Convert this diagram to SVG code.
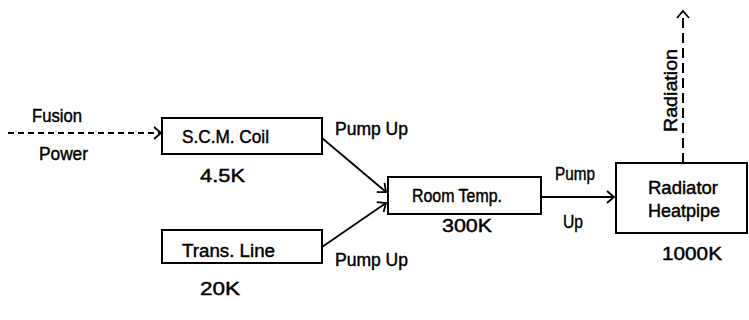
<svg xmlns="http://www.w3.org/2000/svg" width="749" height="320" viewBox="0 0 749 320">
<style>
.box{fill:#fff;stroke:#000;stroke-width:2}
.t{font-family:"Liberation Sans",Arial,sans-serif;font-size:18px;fill:#000;stroke:#000;stroke-width:0.45}
.ln{stroke:#000;stroke-width:1.8;fill:none}
.dash{stroke:#000;stroke-width:1.8;fill:none;stroke-dasharray:6 4}
.dash2{stroke:#000;stroke-width:2;fill:none;stroke-dasharray:10 5}
</style>
<defs>
<marker id="arr" markerUnits="userSpaceOnUse" markerWidth="14" markerHeight="14" refX="12" refY="7" orient="auto">
<path d="M5,1 L12,7 L5,13" fill="none" stroke="#000" stroke-width="1.8"/>
</marker>
</defs>
<rect width="749" height="320" fill="#fff"/>
<g id="connectors">
<line class="dash" x1="8" y1="133" x2="161" y2="133" marker-end="url(#arr)"/>
<line class="ln" x1="322" y1="138" x2="386" y2="192" marker-end="url(#arr)"/>
<line class="ln" x1="322" y1="247" x2="386" y2="203" marker-end="url(#arr)"/>
<line class="ln" x1="541" y1="197" x2="614" y2="197" marker-end="url(#arr)"/>
<line class="dash2" x1="683" y1="163" x2="683" y2="11" marker-end="url(#arr)"/>
<text class="t" x="32" y="122" textLength="50" lengthAdjust="spacingAndGlyphs">Fusion</text>
<text class="t" x="39" y="160" textLength="49" lengthAdjust="spacingAndGlyphs">Power</text>
<text class="t" x="335" y="135" textLength="73" lengthAdjust="spacingAndGlyphs">Pump Up</text>
<text class="t" x="335" y="266" textLength="73" lengthAdjust="spacingAndGlyphs">Pump Up</text>
<text class="t" x="555" y="180" textLength="40" lengthAdjust="spacingAndGlyphs">Pump</text>
<text class="t" x="563" y="228" textLength="20" lengthAdjust="spacingAndGlyphs">Up</text>
<text class="t" transform="translate(677,132) rotate(-90)" x="0" y="0" textLength="83" lengthAdjust="spacingAndGlyphs">Radiation</text>
</g>
<g id="scm">
<rect class="box" x="162" y="118" width="160" height="36"/>
<text class="t" x="182" y="143" textLength="87" lengthAdjust="spacingAndGlyphs">S.C.M. Coil</text>
<text class="t" x="200" y="182" textLength="45" lengthAdjust="spacingAndGlyphs">4.5K</text>
</g>
<g id="trans">
<rect class="box" x="162" y="230" width="160" height="33"/>
<text class="t" x="182" y="257" textLength="93" lengthAdjust="spacingAndGlyphs">Trans. Line</text>
<text class="t" x="200" y="295" textLength="40" lengthAdjust="spacingAndGlyphs">20K</text>
</g>
<g id="room">
<rect class="box" x="388" y="177" width="153" height="37"/>
<text class="t" x="412" y="202" textLength="90" lengthAdjust="spacingAndGlyphs">Room Temp.</text>
<text class="t" x="442" y="232" textLength="50" lengthAdjust="spacingAndGlyphs">300K</text>
</g>
<g id="radiator">
<rect class="box" x="616" y="163" width="131" height="70"/>
<text class="t" x="648" y="194" textLength="70" lengthAdjust="spacingAndGlyphs">Radiator</text>
<text class="t" x="648" y="217" textLength="72" lengthAdjust="spacingAndGlyphs">Heatpipe</text>
<text class="t" x="662" y="260" textLength="60" lengthAdjust="spacingAndGlyphs">1000K</text>
</g>
</svg>
